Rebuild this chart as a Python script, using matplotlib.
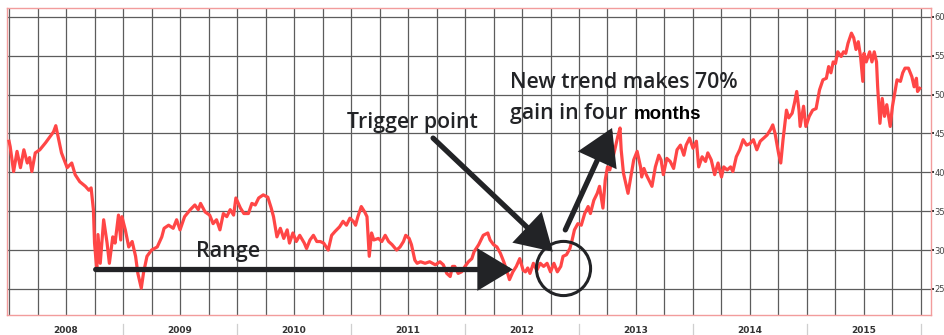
import matplotlib
matplotlib.use("Agg")
import matplotlib.pyplot as plt

# price history, dates as decimal years
dates = [
    2008.00, 2008.01, 2008.04, 2008.07, 2008.10, 2008.13, 2008.16, 2008.18, 2008.20, 2008.23,
    2008.27, 2008.32, 2008.36, 2008.39, 2008.41, 2008.43, 2008.46, 2008.51, 2008.55, 2008.58,
    2008.62, 2008.67, 2008.70, 2008.72, 2008.74, 2008.75, 2008.77, 2008.78, 2008.80, 2008.83,
    2008.86, 2008.88, 2008.91, 2008.93, 2008.96, 2008.98, 2008.99, 2009.02, 2009.05, 2009.08,
    2009.11, 2009.13, 2009.16, 2009.18, 2009.21, 2009.25, 2009.30, 2009.34, 2009.36, 2009.40,
    2009.44, 2009.47, 2009.50, 2009.54, 2009.59, 2009.63, 2009.66, 2009.68, 2009.72, 2009.76,
    2009.79, 2009.82, 2009.85, 2009.88, 2009.91, 2009.94, 2009.97, 2009.99, 2010.03, 2010.06,
    2010.10, 2010.13, 2010.16, 2010.19, 2010.23, 2010.27, 2010.30, 2010.32, 2010.35, 2010.38,
    2010.41, 2010.44, 2010.46, 2010.49, 2010.52, 2010.55, 2010.59, 2010.61, 2010.64, 2010.67,
    2010.70, 2010.73, 2010.76, 2010.80, 2010.83, 2010.86, 2010.90, 2010.93, 2010.96, 2010.99,
    2011.02, 2011.04, 2011.06, 2011.09, 2011.12, 2011.14, 2011.15, 2011.16, 2011.18, 2011.20,
    2011.24, 2011.27, 2011.30, 2011.33, 2011.36, 2011.40, 2011.43, 2011.46, 2011.48, 2011.51,
    2011.53, 2011.56, 2011.58, 2011.61, 2011.65, 2011.69, 2011.74, 2011.78, 2011.81, 2011.84,
    2011.87, 2011.89, 2011.91, 2011.94, 2011.97, 2012.00, 2012.03, 2012.06, 2012.08, 2012.12,
    2012.16, 2012.20, 2012.22, 2012.25, 2012.28, 2012.31, 2012.34, 2012.37, 2012.39, 2012.42,
    2012.45, 2012.48, 2012.51, 2012.53, 2012.55, 2012.57, 2012.60, 2012.63, 2012.66, 2012.69,
    2012.72, 2012.75, 2012.78, 2012.81, 2012.84, 2012.86, 2012.89, 2012.92, 2012.94, 2012.96,
    2012.99, 2013.02, 2013.05, 2013.08, 2013.10, 2013.13, 2013.16, 2013.18, 2013.21, 2013.23,
    2013.25, 2013.27, 2013.30, 2013.32, 2013.34, 2013.36, 2013.37, 2013.39, 2013.43, 2013.46,
    2013.48, 2013.51, 2013.54, 2013.55, 2013.57, 2013.59, 2013.62, 2013.64, 2013.67, 2013.70,
    2013.72, 2013.74, 2013.77, 2013.80, 2013.83, 2013.86, 2013.89, 2013.92, 2013.94, 2013.97,
    2014.00, 2014.03, 2014.05, 2014.08, 2014.11, 2014.13, 2014.16, 2014.19, 2014.22, 2014.25,
    2014.27, 2014.30, 2014.33, 2014.35, 2014.38, 2014.41, 2014.44, 2014.47, 2014.50, 2014.53,
    2014.56, 2014.59, 2014.62, 2014.65, 2014.68, 2014.70, 2014.72, 2014.75, 2014.77, 2014.79,
    2014.82, 2014.84, 2014.87, 2014.89, 2014.91, 2014.93, 2014.94, 2014.97, 2014.99, 2015.02,
    2015.05, 2015.08, 2015.11, 2015.14, 2015.17, 2015.19, 2015.21, 2015.23, 2015.25, 2015.27,
    2015.30, 2015.32, 2015.34, 2015.36, 2015.39, 2015.41, 2015.43, 2015.45, 2015.47, 2015.49,
    2015.50, 2015.52, 2015.55, 2015.57, 2015.59, 2015.61, 2015.62, 2015.64, 2015.66, 2015.68,
    2015.70, 2015.73, 2015.75, 2015.77, 2015.79, 2015.82, 2015.84, 2015.86, 2015.89, 2015.92,
    2015.94, 2015.96, 2015.97, 2015.99,
]
prices = [
    44.0, 43.3, 40.1, 42.7, 40.6, 42.9, 41.2, 41.9, 40.1, 42.5,
    42.9, 43.8, 44.6, 45.2, 46.0, 44.6, 42.5, 40.6, 41.2, 39.7,
    38.8, 38.2, 37.7, 38.0, 35.2, 30.9, 27.4, 32.0, 28.3, 33.9,
    30.9, 28.3, 31.7, 30.9, 34.5, 31.3, 34.3, 32.6, 30.4, 31.1,
    29.2, 27.0, 25.1, 27.1, 29.2, 30.0, 30.4, 31.7, 32.8, 33.2,
    32.8, 33.9, 32.6, 34.3, 35.2, 35.8, 35.2, 36.0, 34.9, 34.5,
    33.4, 33.9, 32.6, 34.7, 34.3, 35.2, 34.5, 36.7, 35.4, 34.7,
    34.7, 36.0, 35.8, 36.7, 37.1, 36.8, 35.4, 34.3, 31.7, 32.8,
    31.5, 32.6, 30.9, 32.2, 31.1, 31.9, 30.9, 30.2, 31.3, 31.9,
    31.1, 31.1, 30.9, 30.0, 31.9, 32.4, 33.0, 33.7, 33.2, 34.1,
    33.7, 33.2, 34.3, 35.6, 34.9, 34.3, 31.7, 29.2, 32.2, 31.3,
    31.5, 31.1, 31.9, 31.1, 30.7, 30.0, 30.4, 31.1, 31.9, 31.5,
    30.7, 28.7, 28.3, 28.5, 28.3, 28.5, 28.1, 28.5, 28.1, 27.0,
    26.6, 27.9, 27.9, 27.0, 27.2, 27.9, 28.5, 28.9, 29.8, 30.7,
    31.9, 32.2, 31.3, 30.7, 30.4, 29.6, 28.5, 27.2, 26.2, 27.2,
    27.9, 28.9, 27.4, 27.2, 27.7, 27.0, 28.3, 27.4, 28.3, 27.9,
    28.3, 27.2, 28.3, 27.2, 27.9, 29.2, 29.4, 30.2, 31.3, 32.6,
    33.4, 33.2, 34.7, 35.6, 34.7, 36.4, 37.3, 38.2, 35.4, 39.0,
    40.7, 40.3, 42.0, 43.3, 44.6, 45.7, 42.9, 39.9, 37.3, 39.9,
    41.6, 42.7, 40.7, 39.4, 40.5, 39.7, 38.8, 38.2, 40.7, 42.2,
    41.6, 39.7, 41.8, 41.4, 40.5, 42.9, 43.5, 42.2, 43.5, 44.4,
    43.1, 44.0, 40.7, 42.0, 41.4, 42.5, 41.6, 39.7, 41.2, 39.4,
    40.7, 40.3, 40.7, 40.1, 42.0, 42.9, 44.2, 43.5, 43.7, 44.2,
    42.9, 44.0, 44.4, 44.8, 45.5, 46.1, 45.0, 42.5, 41.2, 44.2,
    48.0, 47.0, 47.6, 48.9, 50.4, 48.0, 45.9, 48.5, 45.9, 47.2,
    48.0, 48.2, 50.6, 51.9, 52.1, 53.6, 52.8, 54.2, 54.0, 55.5,
    54.9, 55.5, 55.3, 56.6, 57.9, 57.3, 55.8, 56.8, 54.9, 51.7,
    55.3, 54.2, 55.5, 54.2, 55.5, 54.2, 51.0, 46.3, 49.5, 47.2,
    48.7, 45.9, 48.5, 50.2, 51.9, 51.7, 52.8, 53.4, 53.4, 52.3,
    51.0, 52.1, 50.4, 50.8,
]

years = [2008, 2009, 2010, 2011, 2012, 2013, 2014, 2015]
y_ticks = [25, 30, 35, 40, 45, 50, 55, 60]

# annotation anchors (date, price)
range_start = (2008.76, 27.5)
range_end = (2012.42, 27.5)
trigger_from = (2011.72, 44.4)
trigger_to = (2012.77, 29.8)
trend_from = (2012.88, 32.6)
trend_to = (2013.29, 45.7)
circle_at = (2012.86, 27.7)

RED = "#ff4646"
INK = "#222326"
TXT_FONT = ["Open Sans", "DejaVu Sans"]

fig = plt.figure(figsize=(9.45, 3.35), dpi=100)
ax = fig.add_axes([7 / 945, 20 / 335, 924 / 945, 307.5 / 335])

ax.plot(dates, prices, color=RED, lw=2.3, solid_joinstyle="round", zorder=3)

ax.set_xlim(2007.982, 2016.088)
ax.set_ylim(21.65, 61.2)

# grid: quarters and every 5
quarters = [y + q / 4 for y in years + [2016] for q in range(4) if y + q / 4 < 2016.05]
ax.set_xticks(quarters)
ax.set_xticklabels([])
ax.tick_params(axis="x", length=0)
ax.set_yticks(y_ticks)
ax.grid(True, color="#5c5c5c", lw=0.9, zorder=1)
ax.set_axisbelow(True)

ax.yaxis.tick_right()
ax.tick_params(axis="y", direction="out", length=2, width=1.4, color="#333333",
               labelsize=6, labelcolor="#444444", pad=0.6)

for s in ax.spines.values():
    s.set_color("#f29c9c")
    s.set_linewidth(1.0)

# year labels and separators under the axis
xt = ax.get_xaxis_transform()
for y in years:
    ax.text(y + 0.5, -0.035, str(y), transform=xt, ha="center", va="top",
            fontsize=6.5, fontweight="bold", color="#333333")
for y in years[1:] + [2016]:
    ax.plot([y, y], [-0.028, -0.07], transform=xt, color="#cfcfcf", lw=0.9,
            clip_on=False)

# arrows
arrow_kw = dict(arrowstyle="-|>,head_length=1.0,head_width=0.6", mutation_scale=20,
                lw=3.8, color=INK, shrinkA=0, shrinkB=0, joinstyle="miter")
for a, b in [(range_start, range_end), (trigger_from, trigger_to), (trend_from, trend_to)]:
    ax.annotate("", xy=b, xytext=a, arrowprops=arrow_kw, zorder=5)

ax.plot(*circle_at, marker="o", markersize=39, markerfacecolor="none",
        markeredgecolor=INK, markeredgewidth=2.2, zorder=5)

# texts
txt_kw = dict(family=TXT_FONT, fontweight=600, color=INK, zorder=6)
ax.text(2009.92, 29.1, "Range", fontsize=15.5, ha="center", va="baseline", **txt_kw)
ax.text(2011.54, 45.7, "Trigger point", fontsize=15.3, ha="center", va="baseline", **txt_kw)
ax.text(2012.395, 50.86, "New trend makes 70%", fontsize=15.3, ha="left",
        va="baseline", **txt_kw)
ax.text(2012.395, 46.9, "gain in four", fontsize=15.3, ha="left", va="baseline", **txt_kw)
ax.text(2013.48, 46.9, "months", family=["Liberation Sans", "DejaVu Sans"],
        fontweight="bold", fontsize=13.5, color="black", ha="left", va="baseline", zorder=6)

fig.savefig("out.png", dpi=100)
